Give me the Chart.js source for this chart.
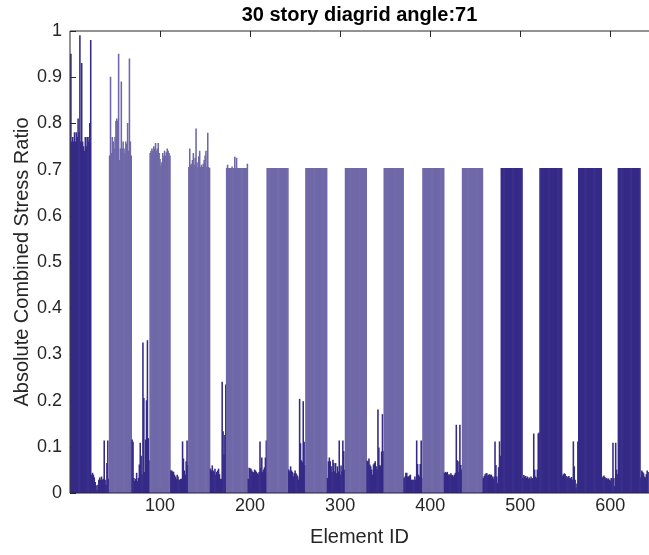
<!DOCTYPE html>
<html lang="en">
<head>
    <meta charset="UTF-8">
    <title>30 story diagrid angle:71</title>
    <script src="https://cdn.jsdelivr.net/npm/chart.js"></script>
    <style>
        html, body {
            margin: 0;
            padding: 0;
            background: #ffffff;
        }
        #wrap {
            position: relative;
            width: 649px;
            height: 555px;
        }
    </style>
</head>
<body>
    <div id="wrap"><canvas id="stressChart"></canvas></div>

    <script>
        // Stress ratio, one pair of arrays per diagrid module:
        // hiNN = the tall block of elements, loNN = the short ones after it
        const hi01 = [0.95, 0.76, 0.77, 0.76, 0.78, 0.76, 0.78, 0.77, 0.81, 0.78, 0.99, 0.76, 0.93, 0.76, 0.75, 0.74, 0.77, 0.75, 0.77, 0.77, 0.76, 0.80, 0.98];
        const lo01 = [0.039, 0.043, 0.039, 0.033, 0.023, 0.016, 0.006, 0.017, 0.028, 0.033, 0.028, 0.035, 0.028, 0.03, 0.113, 0.028, 0.017, 0.064, 0.113, 0.03];
        const hi02 = [0.73, 0.90, 0.735, 0.77, 0.76, 0.745, 0.77, 0.805, 0.81, 0.805, 0.95, 0.72, 0.745, 0.89, 0.745, 0.76, 0.745, 0.735, 0.76, 0.755, 0.80, 0.74, 0.94, 0.76, 0.73];
        const lo02 = [0.115, 0.11, 0.032, 0.025, 0.03, 0.043, 0.025, 0.032, 0.061, 0.108, 0.08, 0.04, 0.325, 0.205, 0.045, 0.115, 0.2, 0.33, 0.118, 0.07];
        const hi03 = [0.735, 0.74, 0.745, 0.74, 0.75, 0.745, 0.757, 0.74, 0.745, 0.757, 0.735, 0.722, 0.708, 0.715, 0.735, 0.728, 0.74, 0.73, 0.737, 0.745, 0.74, 0.735, 0.73];
        const lo03 = [0.048, 0.048, 0.046, 0.045, 0.039, 0.035, 0.03, 0.039, 0.035, 0.028, 0.028, 0.03, 0.03, 0.111, 0.074, 0.048, 0.039, 0.068, 0.113, 0.06];
        const hi04 = [0.705, 0.745, 0.71, 0.712, 0.72, 0.735, 0.71, 0.725, 0.788, 0.715, 0.705, 0.728, 0.74, 0.705, 0.71, 0.705, 0.712, 0.72, 0.73, 0.74, 0.705, 0.779, 0.705, 0.703];
        const lo04 = [0.052, 0.048, 0.059, 0.048, 0.045, 0.052, 0.039, 0.045, 0.048, 0.052, 0.04, 0.03, 0.03, 0.24, 0.133, 0.082, 0.125, 0.234];
        const hi05 = [0.703, 0.71, 0.703, 0.703, 0.703, 0.703, 0.706, 0.703, 0.703, 0.727, 0.703, 0.725, 0.703, 0.703, 0.703, 0.703, 0.703, 0.703, 0.703, 0.703, 0.703, 0.703, 0.703, 0.712];
        const lo05 = [0.03, 0.054, 0.053, 0.052, 0.048, 0.045, 0.044, 0.05, 0.048, 0.045, 0.042, 0.04, 0.045, 0.111, 0.054, 0.076, 0.045, 0.05, 0.055, 0.076, 0.113];
        const hi06 = [0.703, 0.703, 0.703, 0.703, 0.703, 0.703, 0.703, 0.703, 0.703, 0.703, 0.703, 0.703, 0.703, 0.703, 0.703, 0.703, 0.703, 0.703, 0.703, 0.703, 0.703, 0.703, 0.703, 0.703];
        const lo06 = [0.05, 0.046, 0.057, 0.048, 0.045, 0.035, 0.042, 0.048, 0.042, 0.039, 0.035, 0.028, 0.203, 0.107, 0.07, 0.066, 0.198, 0.11, 0.06];
        const hi07 = [0.703, 0.703, 0.703, 0.703, 0.703, 0.703, 0.703, 0.703, 0.703, 0.703, 0.703, 0.703, 0.703, 0.703, 0.703, 0.703, 0.703, 0.703, 0.703, 0.703, 0.703, 0.703, 0.703, 0.703];
        const lo07 = [0.032, 0.068, 0.076, 0.068, 0.057, 0.045, 0.071, 0.064, 0.046, 0.064, 0.042, 0.057, 0.046, 0.113, 0.039, 0.059, 0.046, 0.113, 0.09, 0.05];
        const hi08 = [0.703, 0.703, 0.703, 0.703, 0.703, 0.703, 0.703, 0.703, 0.703, 0.703, 0.703, 0.703, 0.703, 0.703, 0.703, 0.703, 0.703, 0.703, 0.703, 0.703, 0.703, 0.703, 0.703, 0.703];
        const lo08 = [0.069, 0.068, 0.074, 0.061, 0.057, 0.05, 0.039, 0.061, 0.064, 0.068, 0.057, 0.05, 0.18, 0.098, 0.06, 0.057, 0.089, 0.17, 0.09];
        const hi09 = [0.703, 0.703, 0.703, 0.703, 0.703, 0.703, 0.703, 0.703, 0.703, 0.703, 0.703, 0.703, 0.703, 0.703, 0.703, 0.703, 0.703, 0.703, 0.703, 0.703, 0.703, 0.703];
        const lo09 = [0.032, 0.035, 0.043, 0.043, 0.035, 0.035, 0.037, 0.039, 0.028, 0.028, 0.028, 0.028, 0.035, 0.028, 0.113, 0.062, 0.039, 0.035, 0.062, 0.113, 0.032];
        const hi10 = [0.703, 0.703, 0.703, 0.703, 0.703, 0.703, 0.703, 0.703, 0.703, 0.703, 0.703, 0.703, 0.703, 0.703, 0.703, 0.703, 0.703, 0.703, 0.703, 0.703, 0.703, 0.703, 0.703, 0.703];
        const lo10 = [0.043, 0.045, 0.043, 0.045, 0.039, 0.04, 0.037, 0.042, 0.039, 0.038, 0.035, 0.039, 0.043, 0.147, 0.07, 0.045, 0.068, 0.147, 0.06, 0.05];
        const hi11 = [0.703, 0.703, 0.703, 0.703, 0.703, 0.703, 0.703, 0.703, 0.703, 0.703, 0.703, 0.703, 0.703, 0.703, 0.703, 0.703, 0.703, 0.703, 0.703, 0.703, 0.703, 0.703, 0.703];
        const lo11 = [0.032, 0.036, 0.04, 0.042, 0.042, 0.037, 0.039, 0.04, 0.038, 0.039, 0.035, 0.03, 0.035, 0.111, 0.06, 0.035, 0.021, 0.055, 0.111, 0.08];
        const hi12 = [0.703, 0.703, 0.703, 0.703, 0.703, 0.703, 0.703, 0.703, 0.703, 0.703, 0.703, 0.703, 0.703, 0.703, 0.703, 0.703, 0.703, 0.703, 0.703, 0.703, 0.703, 0.703, 0.703, 0.703];
        const lo12 = [0.032, 0.038, 0.035, 0.036, 0.032, 0.035, 0.03, 0.033, 0.03, 0.035, 0.03, 0.032, 0.128, 0.05, 0.035, 0.032, 0.05, 0.128, 0.13];
        const hi13 = [0.703, 0.703, 0.703, 0.703, 0.703, 0.703, 0.703, 0.703, 0.703, 0.703, 0.703, 0.703, 0.703, 0.703, 0.703, 0.703, 0.703, 0.703, 0.703, 0.703, 0.703, 0.703, 0.703, 0.703, 0.703];
        const lo13 = [0.037, 0.04, 0.042, 0.04, 0.036, 0.033, 0.035, 0.036, 0.032, 0.031, 0.034, 0.028, 0.111, 0.057, 0.028, 0.011, 0.02, 0.111];
        const hi14 = [0.703, 0.703, 0.703, 0.703, 0.703, 0.703, 0.703, 0.703, 0.703, 0.703, 0.703, 0.703, 0.703, 0.703, 0.703, 0.703, 0.703, 0.703, 0.703, 0.703, 0.703, 0.703, 0.703, 0.703, 0.703, 0.703];
        const lo14 = [0.033, 0.035, 0.037, 0.034, 0.031, 0.032, 0.029, 0.031, 0.028, 0.026, 0.032, 0.03, 0.108, 0.032, 0.014, 0.108, 0.05, 0.04];
        const hi15 = [0.703, 0.703, 0.703, 0.703, 0.703, 0.703, 0.703, 0.703, 0.703, 0.703, 0.703, 0.703, 0.703, 0.703, 0.703, 0.703, 0.703, 0.703, 0.703, 0.703, 0.703, 0.703, 0.703, 0.703, 0.703];
        const lo15 = [0.033, 0.048, 0.045, 0.042, 0.035, 0.033, 0.04, 0.048, 0.045];

        // axis ticks
        const xTickValues = [100, 200, 300, 400, 500, 600];
        const xTickLabels = ['100', '200', '300', '400', '500', '600'];
        const yTickValues = [0, 0.1, 0.2, 0.3, 0.4, 0.5, 0.6, 0.7, 0.8, 0.9, 1];
        const yTickLabels = ['0', '0.1', '0.2', '0.3', '0.4', '0.5', '0.6', '0.7', '0.8', '0.9', '1'];

        const modules = [
            hi01, lo01, hi02, lo02, hi03, lo03, hi04, lo04, hi05, lo05,
            hi06, lo06, hi07, lo07, hi08, lo08, hi09, lo09, hi10, lo10,
            hi11, lo11, hi12, lo12, hi13, lo13, hi14, lo14, hi15, lo15
        ];
        const stressRatio = [].concat(...modules);
        const elementIds = stressRatio.map((v, i) => i + 1);

        // the tall blocks of modules 2..11 come out lighter in the original
        const lightFrom = hi01.length + lo01.length;
        const lightTo = modules.slice(0, 22).reduce((n, a) => n + a.length, 0);

        const darkBar = '#352a87';
        const lightBar = '#6f68a8';
        const axisColor = '#262626';
        const fontFamily = '"Liberation Sans", Arial, Helvetica, sans-serif';

        Chart.defaults.font.family = fontFamily;
        Chart.defaults.color = axisColor;

        // MATLAB style box: ticks pointing inwards, lines on top of the bars
        const boxPlugin = {
            id: 'matlabBox',
            beforeDatasetsDraw(chart) {
                const { ctx, chartArea: a, scales } = chart;
                const len = 6;
                ctx.save();
                ctx.strokeStyle = axisColor;
                ctx.lineWidth = 1;
                ctx.beginPath();
                yTickValues.forEach(v => {
                    const y = Math.round(scales.y.getPixelForValue(v)) + 0.5;
                    ctx.moveTo(a.left, y);
                    ctx.lineTo(a.left + len, y);
                });
                xTickValues.forEach(v => {
                    const x = Math.round(scales.x.getPixelForValue(v)) + 0.5;
                    ctx.moveTo(x, a.top);
                    ctx.lineTo(x, a.top + len);
                    ctx.moveTo(x, a.bottom);
                    ctx.lineTo(x, a.bottom - len);
                });
                ctx.stroke();
                ctx.restore();
            },
            afterDatasetsDraw(chart) {
                const { ctx, chartArea: a } = chart;
                ctx.save();
                ctx.strokeStyle = axisColor;
                ctx.lineWidth = 1;
                ctx.beginPath();
                ctx.moveTo(a.right + 2, a.top);
                ctx.lineTo(a.left, a.top);
                ctx.lineTo(a.left, a.bottom);
                ctx.lineTo(a.right + 2, a.bottom);
                ctx.stroke();
                ctx.restore();
            }
        };

        const ctx = document.getElementById('stressChart').getContext('2d');
        const stressChart = new Chart(ctx, {
            type: 'bar',
            data: {
                datasets: [{
                    data: stressRatio.map((v, i) => ({ x: elementIds[i], y: v })),
                    backgroundColor: c => (c.dataIndex >= lightFrom && c.dataIndex < lightTo && stressRatio[c.dataIndex] > 0.5) ? lightBar : darkBar,
                    borderWidth: 0,
                    barPercentage: 1,
                    categoryPercentage: 1
                }]
            },
            options: {
                responsive: true,
                maintainAspectRatio: false,
                animation: false,
                events: [],
                layout: { padding: { left: 0, right: 0, top: 0, bottom: 0 } },
                scales: {
                    x: {
                        type: 'linear',
                        offset: false,
                        min: 0,
                        max: 643,
                        grid: { display: false, drawTicks: false },
                        border: { display: false },
                        afterBuildTicks: s => { s.ticks = xTickValues.map(v => ({ value: v })); },
                        afterFit: s => { s.height = 62; },
                        ticks: {
                            autoSkip: false,
                            maxRotation: 0,
                            padding: 2,
                            font: { size: 18 },
                            callback: (v, i) => xTickLabels[i]
                        },
                        title: {
                            display: true,
                            text: 'Element ID',
                            font: { size: 20 },
                            padding: { top: 0, bottom: 6 }
                        }
                    },
                    y: {
                        min: 0,
                        max: 1,
                        grid: { display: false, drawTicks: false },
                        border: { display: false },
                        afterBuildTicks: s => { s.ticks = yTickValues.map(v => ({ value: v })); },
                        afterFit: s => { s.width = 70; },
                        ticks: {
                            padding: 8,
                            font: { size: 18 },
                            callback: (v, i) => yTickLabels[i]
                        },
                        title: {
                            display: true,
                            text: 'Absolute Combined Stress Ratio',
                            font: { size: 20 },
                            padding: { top: 10.8, bottom: 0 }
                        }
                    }
                },
                plugins: {
                    legend: { display: false },
                    tooltip: { enabled: false },
                    title: {
                        display: true,
                        text: '30 story diagrid angle:71',
                        fullSize: false,
                        color: '#000000',
                        font: { size: 20, weight: 'bold' },
                        padding: { top: 3, bottom: 4 }
                    }
                }
            },
            plugins: [boxPlugin]
        });
    </script>
</body>
</html>
